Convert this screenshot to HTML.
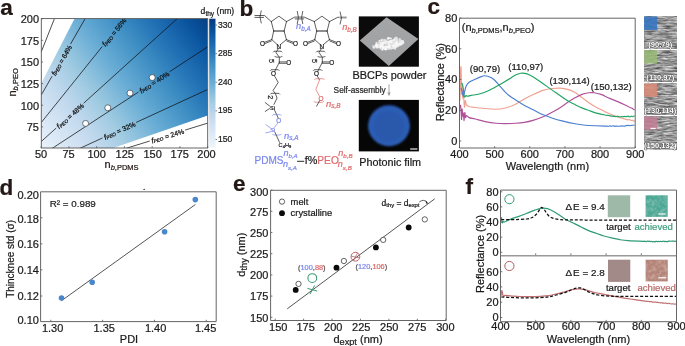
<!DOCTYPE html>
<html><head><meta charset="utf-8"><style>
html,body{margin:0;padding:0;background:#fff;overflow:hidden}
svg{display:block;will-change:transform}
text{font-family:"Liberation Sans", sans-serif}
</style></head><body>
<svg width="685" height="346" viewBox="0 0 685 346">
<text x="0.2" y="15.2" font-size="22.5" font-weight="bold" fill="#231815" stroke="#231815" stroke-width="0.22">a</text>
<text x="239.6" y="16.2" font-size="22.5" font-weight="bold" fill="#231815" stroke="#231815" stroke-width="0.22">b</text>
<text x="427.4" y="14.4" font-size="22.5" font-weight="bold" fill="#231815" stroke="#231815" stroke-width="0.22">c</text>
<text x="-0.6" y="195.2" font-size="22.5" font-weight="bold" fill="#231815" stroke="#231815" stroke-width="0.22">d</text>
<text x="233.0" y="191.2" font-size="22.5" font-weight="bold" fill="#231815" stroke="#231815" stroke-width="0.22">e</text>
<text x="465.4" y="193.7" font-size="22.5" font-weight="bold" fill="#231815" stroke="#231815" stroke-width="0.22">f</text>
<defs><linearGradient id="hm" gradientUnits="userSpaceOnUse" x1="34.95" y1="151.50" x2="212.70" y2="18.20"><stop offset="0.000" stop-color="#eff6fc"/><stop offset="0.050" stop-color="#e6f0f9"/><stop offset="0.100" stop-color="#ddeaf7"/><stop offset="0.150" stop-color="#d4e4f4"/><stop offset="0.200" stop-color="#cbdef1"/><stop offset="0.250" stop-color="#c0d8ed"/><stop offset="0.300" stop-color="#b1d2e8"/><stop offset="0.350" stop-color="#a2cce2"/><stop offset="0.400" stop-color="#91c3de"/><stop offset="0.450" stop-color="#7eb8da"/><stop offset="0.500" stop-color="#6baed6"/><stop offset="0.550" stop-color="#5ca4d0"/><stop offset="0.600" stop-color="#4d99ca"/><stop offset="0.650" stop-color="#3f8fc4"/><stop offset="0.700" stop-color="#3282be"/><stop offset="0.750" stop-color="#2676b8"/><stop offset="0.800" stop-color="#1c6ab0"/><stop offset="0.850" stop-color="#135fa7"/><stop offset="0.900" stop-color="#09539d"/><stop offset="0.950" stop-color="#08478d"/><stop offset="1.000" stop-color="#083b7b"/></linearGradient>
<linearGradient id="cb" x1="0" y1="0" x2="0" y2="1"><stop offset="0.000" stop-color="#083b7b"/><stop offset="0.050" stop-color="#08478d"/><stop offset="0.100" stop-color="#09539d"/><stop offset="0.150" stop-color="#135fa7"/><stop offset="0.200" stop-color="#1c6ab0"/><stop offset="0.250" stop-color="#2676b8"/><stop offset="0.300" stop-color="#3282be"/><stop offset="0.350" stop-color="#3f8fc4"/><stop offset="0.400" stop-color="#4d99ca"/><stop offset="0.450" stop-color="#5ca4d0"/><stop offset="0.500" stop-color="#6baed6"/><stop offset="0.550" stop-color="#7eb8da"/><stop offset="0.600" stop-color="#91c3de"/><stop offset="0.650" stop-color="#a2cce2"/><stop offset="0.700" stop-color="#b1d2e8"/><stop offset="0.750" stop-color="#c0d8ed"/><stop offset="0.800" stop-color="#cbdef1"/><stop offset="0.850" stop-color="#d4e4f4"/><stop offset="0.900" stop-color="#ddeaf7"/><stop offset="0.950" stop-color="#e6f0f9"/><stop offset="1.000" stop-color="#eff6fc"/></linearGradient></defs>
<clipPath id="cpa"><rect x="41.30" y="18.60" width="166.40" height="129.40"/></clipPath>
<path d="M41.20,148.50 L111.84,148.50 L207.70,115.62 L207.70,18.71 L74.50,18.71 L41.20,83.60 Z" fill="url(#hm)" clip-path="url(#cpa)"/>
<path d="M41.20,52.00 L54.42,18.71" stroke="#111" stroke-width="0.75" fill="none" clip-path="url(#cpa)"/>
<path d="M41.20,95.14 L52.09,76.18 M70.52,44.09 L85.10,18.71" stroke="#111" stroke-width="0.75" fill="none" clip-path="url(#cpa)"/>
<text transform="translate(61.30,60.13) rotate(-60.13)" font-size="6.9" text-anchor="middle" dominant-baseline="central" fill="#111" stroke="#111" stroke-width="0.22"><tspan font-style="italic" font-size="7.6">f</tspan><tspan font-size="4.8" font-style="italic" dy="1.3">PEO</tspan><tspan dy="-1.3"> = 64%</tspan></text>
<path d="M41.20,122.59 L102.31,46.42 M125.46,17.56 L124.55,18.71" stroke="#111" stroke-width="0.75" fill="none" clip-path="url(#cpa)"/>
<text transform="translate(113.89,31.99) rotate(-51.26)" font-size="6.9" text-anchor="middle" dominant-baseline="central" fill="#111" stroke="#111" stroke-width="0.22"><tspan font-style="italic" font-size="7.6">f</tspan><tspan font-size="4.8" font-style="italic" dy="1.3">PEO</tspan><tspan dy="-1.3"> = 56%</tspan></text>
<path d="M41.20,141.59 L56.19,128.04 M83.64,103.23 L177.14,18.71" stroke="#111" stroke-width="0.75" fill="none" clip-path="url(#cpa)"/>
<text transform="translate(69.91,115.64) rotate(-42.11)" font-size="6.9" text-anchor="middle" dominant-baseline="central" fill="#111" stroke="#111" stroke-width="0.22"><tspan font-style="italic" font-size="7.6">f</tspan><tspan font-size="4.8" font-style="italic" dy="1.3">PEO</tspan><tspan dy="-1.3"> = 48%</tspan></text>
<path d="M51.97,148.50 L138.55,91.97 M169.53,71.75 L207.70,46.82" stroke="#111" stroke-width="0.75" fill="none" clip-path="url(#cpa)"/>
<text transform="translate(154.04,81.86) rotate(-33.14)" font-size="6.9" text-anchor="middle" dominant-baseline="central" fill="#111" stroke="#111" stroke-width="0.22"><tspan font-style="italic" font-size="7.6">f</tspan><tspan font-size="4.8" font-style="italic" dy="1.3">PEO</tspan><tspan dy="-1.3"> = 40%</tspan></text>
<path d="M79.58,148.50 L102.51,137.93 M136.12,122.44 L207.70,89.45" stroke="#111" stroke-width="0.75" fill="none" clip-path="url(#cpa)"/>
<text transform="translate(119.32,130.19) rotate(-24.74)" font-size="6.9" text-anchor="middle" dominant-baseline="central" fill="#111" stroke="#111" stroke-width="0.22"><tspan font-style="italic" font-size="7.6">f</tspan><tspan font-size="4.8" font-style="italic" dy="1.3">PEO</tspan><tspan dy="-1.3"> = 32%</tspan></text>
<path d="M125.60,148.50 L149.76,141.03 M185.11,130.09 L207.70,123.11" stroke="#111" stroke-width="0.75" fill="none" clip-path="url(#cpa)"/>
<text transform="translate(167.44,135.56) rotate(-17.18)" font-size="6.9" text-anchor="middle" dominant-baseline="central" fill="#111" stroke="#111" stroke-width="0.22"><tspan font-style="italic" font-size="7.6">f</tspan><tspan font-size="4.8" font-style="italic" dy="1.3">PEO</tspan><tspan dy="-1.3"> = 24%</tspan></text>
<circle cx="85.60" cy="123.41" r="3.0" fill="#fff" stroke="#222" stroke-width="0.6"/>
<circle cx="107.80" cy="107.83" r="3.0" fill="#fff" stroke="#222" stroke-width="0.6"/>
<circle cx="130.00" cy="93.12" r="3.0" fill="#fff" stroke="#222" stroke-width="0.6"/>
<circle cx="152.20" cy="77.55" r="3.0" fill="#fff" stroke="#222" stroke-width="0.6"/>
<rect x="41.30" y="18.60" width="166.40" height="129.40" fill="none" stroke="#555" stroke-width="0.9"/>
<text x="41.00" y="158.30" font-size="11" text-anchor="middle" fill="#1a1a1a"  stroke="#1a1a1a" stroke-width="0.22">50</text>
<text x="68.50" y="158.30" font-size="11" text-anchor="middle" fill="#1a1a1a"  stroke="#1a1a1a" stroke-width="0.22">75</text>
<text x="96.60" y="158.30" font-size="11" text-anchor="middle" fill="#1a1a1a"  stroke="#1a1a1a" stroke-width="0.22">100</text>
<text x="124.80" y="158.30" font-size="11" text-anchor="middle" fill="#1a1a1a"  stroke="#1a1a1a" stroke-width="0.22">125</text>
<text x="152.60" y="158.30" font-size="11" text-anchor="middle" fill="#1a1a1a"  stroke="#1a1a1a" stroke-width="0.22">150</text>
<text x="179.80" y="158.30" font-size="11" text-anchor="middle" fill="#1a1a1a"  stroke="#1a1a1a" stroke-width="0.22">175</text>
<text x="206.50" y="158.30" font-size="11" text-anchor="middle" fill="#1a1a1a"  stroke="#1a1a1a" stroke-width="0.22">200</text>
<text x="39.00" y="131.37" font-size="11" text-anchor="end" fill="#1a1a1a"  stroke="#1a1a1a" stroke-width="0.22">75</text>
<text x="39.00" y="109.73" font-size="11" text-anchor="end" fill="#1a1a1a"  stroke="#1a1a1a" stroke-width="0.22">100</text>
<text x="39.00" y="88.10" font-size="11" text-anchor="end" fill="#1a1a1a"  stroke="#1a1a1a" stroke-width="0.22">125</text>
<text x="39.00" y="66.47" font-size="11" text-anchor="end" fill="#1a1a1a"  stroke="#1a1a1a" stroke-width="0.22">150</text>
<text x="39.00" y="44.84" font-size="11" text-anchor="end" fill="#1a1a1a"  stroke="#1a1a1a" stroke-width="0.22">175</text>
<text x="39.00" y="23.21" font-size="11" text-anchor="end" fill="#1a1a1a"  stroke="#1a1a1a" stroke-width="0.22">200</text>
<path d="M41.20,148.00 v-1.8 M68.95,148.00 v-1.8 M96.70,148.00 v-1.8 M124.45,148.00 v-1.8 M152.20,148.00 v-1.8 M179.95,148.00 v-1.8 M207.70,148.00 v-1.8 M41.30,126.87 h1.8 M41.30,105.23 h1.8 M41.30,83.60 h1.8 M41.30,61.97 h1.8 M41.30,40.34 h1.8 M41.30,18.71 h1.8" stroke="#555" stroke-width="0.8"/>
<text x="104.5" y="168.2" font-size="11" fill="#231815" stroke="#231815" stroke-width="0.22">n<tspan font-size="7.5" dy="1.8"><tspan font-style="italic">b</tspan>,PDMS</tspan></text>
<text transform="translate(15.8,96.5) rotate(-90)" font-size="11" fill="#231815" stroke="#231815" stroke-width="0.22">n<tspan font-size="7.5" dy="1.8"><tspan font-style="italic">b</tspan>,PEO</tspan></text>
<rect x="209.2" y="18.7" width="6.3" height="129" fill="url(#cb)"/>
<path d="M215.5,25.05 h1.6" stroke="#444" stroke-width="0.7"/>
<text x="217.90" y="27.65" font-size="8.6" text-anchor="start" fill="#1a1a1a"  stroke="#1a1a1a" stroke-width="0.22">330</text>
<path d="M215.5,53.65 h1.6" stroke="#444" stroke-width="0.7"/>
<text x="217.90" y="56.25" font-size="8.6" text-anchor="start" fill="#1a1a1a"  stroke="#1a1a1a" stroke-width="0.22">285</text>
<path d="M215.5,82.25 h1.6" stroke="#444" stroke-width="0.7"/>
<text x="217.90" y="84.85" font-size="8.6" text-anchor="start" fill="#1a1a1a"  stroke="#1a1a1a" stroke-width="0.22">240</text>
<path d="M215.5,110.84 h1.6" stroke="#444" stroke-width="0.7"/>
<text x="217.90" y="113.44" font-size="8.6" text-anchor="start" fill="#1a1a1a"  stroke="#1a1a1a" stroke-width="0.22">195</text>
<path d="M215.5,139.44 h1.6" stroke="#444" stroke-width="0.7"/>
<text x="217.90" y="142.04" font-size="8.6" text-anchor="start" fill="#1a1a1a"  stroke="#1a1a1a" stroke-width="0.22">150</text>
<text x="200.6" y="14.2" font-size="8.6" fill="#1a1a1a" stroke="#1a1a1a" stroke-width="0.22">d<tspan font-size="6.6" dy="1.7">thy</tspan><tspan dy="-1.7"> (nm)</tspan></text>
<path d="M271.30,21.60 L278.90,16.20 L286.50,21.60" stroke="#1e1e1e" stroke-width="0.72" fill="none" stroke-linecap="round" stroke-linejoin="round"/>
<path d="M271.30,21.60 L273.70,31.00" stroke="#1e1e1e" stroke-width="0.72" fill="none" stroke-linecap="round" stroke-linejoin="round"/>
<path d="M286.50,21.60 L284.10,31.00" stroke="#1e1e1e" stroke-width="0.72" fill="none" stroke-linecap="round" stroke-linejoin="round"/>
<path d="M273.70,31.00 L284.10,31.00" stroke="#1e1e1e" stroke-width="1.00" fill="none" stroke-linecap="round" stroke-linejoin="round"/>
<path d="M273.70,31.00 L271.80,39.60" stroke="#1e1e1e" stroke-width="0.72" fill="none" stroke-linecap="round" stroke-linejoin="round"/>
<path d="M284.10,31.00 L286.40,39.60" stroke="#1e1e1e" stroke-width="0.72" fill="none" stroke-linecap="round" stroke-linejoin="round"/>
<path d="M271.80,39.60 L277.00,44.40" stroke="#1e1e1e" stroke-width="0.72" fill="none" stroke-linecap="round" stroke-linejoin="round"/>
<path d="M286.40,39.60 L280.60,44.40" stroke="#1e1e1e" stroke-width="0.72" fill="none" stroke-linecap="round" stroke-linejoin="round"/>
<path d="M271.80,39.60 L264.80,42.20" stroke="#1e1e1e" stroke-width="0.72" fill="none" stroke-linecap="round" stroke-linejoin="round"/>
<path d="M271.40,41.00 L265.00,43.50" stroke="#1e1e1e" stroke-width="0.72" fill="none" stroke-linecap="round" stroke-linejoin="round"/>
<path d="M286.40,39.60 L293.20,42.20" stroke="#1e1e1e" stroke-width="0.72" fill="none" stroke-linecap="round" stroke-linejoin="round"/>
<path d="M286.80,41.00 L293.00,43.50" stroke="#1e1e1e" stroke-width="0.72" fill="none" stroke-linecap="round" stroke-linejoin="round"/>
<text x="262.60" y="43.30" font-size="6.4" text-anchor="middle" dominant-baseline="central" fill="#1e1e1e" stroke="#1e1e1e" stroke-width="0.22">O</text>
<text x="295.40" y="43.30" font-size="6.4" text-anchor="middle" dominant-baseline="central" fill="#1e1e1e" stroke="#1e1e1e" stroke-width="0.22">O</text>
<text x="278.80" y="46.10" font-size="6.4" text-anchor="middle" dominant-baseline="central" fill="#1e1e1e" stroke="#1e1e1e" stroke-width="0.22">N</text>
<path d="M278.60,48.30 L276.00,52.50 L279.30,57.30 L279.30,62.40" stroke="#1e1e1e" stroke-width="0.72" fill="none" stroke-linecap="round" stroke-linejoin="round"/>
<path d="M274.00,51.30 Q277.60,51.00 281.20,51.30 M273.00,52.30 L274.00,51.30 M281.20,51.30 L282.20,52.30" stroke="#1e1e1e" stroke-width="0.70" fill="none"/>
<path d="M275.60,57.00 Q278.50,57.30 281.40,57.00 M274.60,56.00 L275.60,57.00 M281.40,57.00 L282.40,56.00" stroke="#1e1e1e" stroke-width="0.70" fill="none"/>
<text transform="translate(271.00,61.00) rotate(90)" font-size="7.2" text-anchor="middle" dominant-baseline="central" fill="#1e1e1e" stroke="#1e1e1e" stroke-width="0.22">5</text>
<path d="M279.30,61.90 L286.20,61.90" stroke="#1e1e1e" stroke-width="0.72" fill="none" stroke-linecap="round" stroke-linejoin="round"/>
<path d="M279.30,63.30 L286.20,63.30" stroke="#1e1e1e" stroke-width="0.72" fill="none" stroke-linecap="round" stroke-linejoin="round"/>
<text x="288.70" y="62.70" font-size="6.4" text-anchor="middle" dominant-baseline="central" fill="#1e1e1e" stroke="#1e1e1e" stroke-width="0.22">O</text>
<path d="M279.30,62.40 L274.80,71.20" stroke="#1e1e1e" stroke-width="0.72" fill="none" stroke-linecap="round" stroke-linejoin="round"/>
<path d="M271.00,69.80 Q274.70,69.50 278.40,69.80 M270.00,70.80 L271.00,69.80 M278.40,69.80 L279.40,70.80" stroke="#1e1e1e" stroke-width="0.70" fill="none"/>
<text x="273.40" y="73.90" font-size="6.4" text-anchor="middle" dominant-baseline="central" fill="#1e1e1e" stroke="#1e1e1e" stroke-width="0.22">O</text>
<path d="M314.30,21.60 L321.90,16.20 L329.50,21.60" stroke="#1e1e1e" stroke-width="0.72" fill="none" stroke-linecap="round" stroke-linejoin="round"/>
<path d="M314.30,21.60 L316.70,31.00" stroke="#1e1e1e" stroke-width="0.72" fill="none" stroke-linecap="round" stroke-linejoin="round"/>
<path d="M329.50,21.60 L327.10,31.00" stroke="#1e1e1e" stroke-width="0.72" fill="none" stroke-linecap="round" stroke-linejoin="round"/>
<path d="M316.70,31.00 L327.10,31.00" stroke="#1e1e1e" stroke-width="1.00" fill="none" stroke-linecap="round" stroke-linejoin="round"/>
<path d="M316.70,31.00 L314.80,39.60" stroke="#1e1e1e" stroke-width="0.72" fill="none" stroke-linecap="round" stroke-linejoin="round"/>
<path d="M327.10,31.00 L329.40,39.60" stroke="#1e1e1e" stroke-width="0.72" fill="none" stroke-linecap="round" stroke-linejoin="round"/>
<path d="M314.80,39.60 L320.00,44.40" stroke="#1e1e1e" stroke-width="0.72" fill="none" stroke-linecap="round" stroke-linejoin="round"/>
<path d="M329.40,39.60 L323.60,44.40" stroke="#1e1e1e" stroke-width="0.72" fill="none" stroke-linecap="round" stroke-linejoin="round"/>
<path d="M314.80,39.60 L307.80,42.20" stroke="#1e1e1e" stroke-width="0.72" fill="none" stroke-linecap="round" stroke-linejoin="round"/>
<path d="M314.40,41.00 L308.00,43.50" stroke="#1e1e1e" stroke-width="0.72" fill="none" stroke-linecap="round" stroke-linejoin="round"/>
<path d="M329.40,39.60 L336.20,42.20" stroke="#1e1e1e" stroke-width="0.72" fill="none" stroke-linecap="round" stroke-linejoin="round"/>
<path d="M329.80,41.00 L336.00,43.50" stroke="#1e1e1e" stroke-width="0.72" fill="none" stroke-linecap="round" stroke-linejoin="round"/>
<text x="305.60" y="43.30" font-size="6.4" text-anchor="middle" dominant-baseline="central" fill="#1e1e1e" stroke="#1e1e1e" stroke-width="0.22">O</text>
<text x="338.40" y="43.30" font-size="6.4" text-anchor="middle" dominant-baseline="central" fill="#1e1e1e" stroke="#1e1e1e" stroke-width="0.22">O</text>
<text x="321.80" y="46.10" font-size="6.4" text-anchor="middle" dominant-baseline="central" fill="#1e1e1e" stroke="#1e1e1e" stroke-width="0.22">N</text>
<path d="M321.60,48.30 L319.00,52.50 L322.30,57.30 L322.30,62.40" stroke="#1e1e1e" stroke-width="0.72" fill="none" stroke-linecap="round" stroke-linejoin="round"/>
<path d="M317.00,51.30 Q320.60,51.00 324.20,51.30 M316.00,52.30 L317.00,51.30 M324.20,51.30 L325.20,52.30" stroke="#1e1e1e" stroke-width="0.70" fill="none"/>
<path d="M318.60,57.00 Q321.50,57.30 324.40,57.00 M317.60,56.00 L318.60,57.00 M324.40,57.00 L325.40,56.00" stroke="#1e1e1e" stroke-width="0.70" fill="none"/>
<text transform="translate(314.00,61.00) rotate(90)" font-size="7.2" text-anchor="middle" dominant-baseline="central" fill="#1e1e1e" stroke="#1e1e1e" stroke-width="0.22">5</text>
<path d="M322.30,61.90 L329.20,61.90" stroke="#1e1e1e" stroke-width="0.72" fill="none" stroke-linecap="round" stroke-linejoin="round"/>
<path d="M322.30,63.30 L329.20,63.30" stroke="#1e1e1e" stroke-width="0.72" fill="none" stroke-linecap="round" stroke-linejoin="round"/>
<text x="331.70" y="62.70" font-size="6.4" text-anchor="middle" dominant-baseline="central" fill="#1e1e1e" stroke="#1e1e1e" stroke-width="0.22">O</text>
<path d="M322.30,62.40 L317.80,71.20" stroke="#1e1e1e" stroke-width="0.72" fill="none" stroke-linecap="round" stroke-linejoin="round"/>
<path d="M314.00,69.80 Q317.70,69.50 321.40,69.80 M313.00,70.80 L314.00,69.80 M321.40,69.80 L322.40,70.80" stroke="#1e1e1e" stroke-width="0.70" fill="none"/>
<text x="316.40" y="73.90" font-size="6.4" text-anchor="middle" dominant-baseline="central" fill="#1e1e1e" stroke="#1e1e1e" stroke-width="0.22">O</text>
<path d="M254.90,15.50 L264.50,15.50 L271.30,21.60" stroke="#1e1e1e" stroke-width="0.72" fill="none" stroke-linecap="round" stroke-linejoin="round"/>
<path d="M254.90,17.40 L263.70,17.40" stroke="#1e1e1e" stroke-width="0.72" fill="none" stroke-linecap="round" stroke-linejoin="round"/>
<path d="M261.30,10.40 Q258.70,16.90 261.30,23.40" stroke="#1e1e1e" stroke-width="0.70" fill="none"/>
<path d="M286.50,21.60 L294.70,17.10 L304.20,17.10 L314.30,21.60" stroke="#1e1e1e" stroke-width="0.72" fill="none" stroke-linecap="round" stroke-linejoin="round"/>
<path d="M295.20,18.90 L303.80,18.90" stroke="#1e1e1e" stroke-width="0.72" fill="none" stroke-linecap="round" stroke-linejoin="round"/>
<path d="M297.20,11.00 Q299.60,17.50 297.20,24.00" stroke="#1e1e1e" stroke-width="0.70" fill="none"/>
<path d="M302.80,11.00 Q300.40,17.50 302.80,24.00" stroke="#1e1e1e" stroke-width="0.70" fill="none"/>
<path d="M329.50,21.60 L337.70,17.30 L339.20,17.30" stroke="#1e1e1e" stroke-width="0.72" fill="none" stroke-linecap="round" stroke-linejoin="round"/>
<path d="M339.6,17.5 H346.7" stroke="#9a9a9a" stroke-width="1.9"/>
<path d="M340.00,11.60 Q343.00,18.00 340.00,24.40" stroke="#1e1e1e" stroke-width="0.70" fill="none"/>
<text x="296.1" y="29.4" font-size="9.2" font-style="italic" fill="#7b86ee" stroke="#7b86ee" stroke-width="0.22">n<tspan font-size="6.3" dy="1.5">b,A</tspan></text>
<text x="342.2" y="30.2" font-size="9.2" font-style="italic" fill="#e06a6a" stroke="#e06a6a" stroke-width="0.22">n<tspan font-size="6.3" dy="1.5">b,B</tspan></text>
<path d="M274.80,76.40 L278.20,82.40 L275.30,87.00 L273.00,90.50 L275.30,93.40 L277.10,98.00 L274.00,104.40" stroke="#1e1e1e" stroke-width="0.72" fill="none" stroke-linecap="round" stroke-linejoin="round"/>
<path d="M271.10,93.40 Q275.05,93.10 279.00,93.40 M270.10,94.40 L271.10,93.40 M279.00,93.40 L280.00,94.40" stroke="#1e1e1e" stroke-width="0.70" fill="none"/>
<text transform="translate(270.70,97.20) rotate(90)" font-size="7.2" text-anchor="middle" dominant-baseline="central" fill="#1e1e1e" stroke="#1e1e1e" stroke-width="0.22">2</text>
<text x="272.40" y="107.60" font-size="5.6" text-anchor="middle" dominant-baseline="central" fill="#1e1e1e" stroke="#1e1e1e" stroke-width="0.22">Si</text>
<path d="M269.60,108.60 L265.20,111.40" stroke="#1e1e1e" stroke-width="0.72" fill="none" stroke-linecap="round" stroke-linejoin="round"/>
<path d="M269.60,106.00 L265.20,102.60" stroke="#1e1e1e" stroke-width="0.72" fill="none" stroke-linecap="round" stroke-linejoin="round"/>
<path d="M274.60,110.20 L278.30,118.20" stroke="#1e1e1e" stroke-width="0.72" fill="none" stroke-linecap="round" stroke-linejoin="round"/>
<path d="M273.30,114.70 Q276.85,114.40 280.40,114.70 M272.30,115.70 L273.30,114.70 M280.40,114.70 L281.40,115.70" stroke="#7b86ee" stroke-width="0.70" fill="none"/>
<text x="278.80" y="120.90" font-size="6.4" text-anchor="middle" dominant-baseline="central" fill="#7b86ee" stroke="#7b86ee" stroke-width="0.22">O</text>
<path d="M277.60,123.40 L274.20,127.60" stroke="#7b86ee" stroke-width="0.72" fill="none" stroke-linecap="round" stroke-linejoin="round"/>
<text x="272.80" y="129.80" font-size="5.6" text-anchor="middle" dominant-baseline="central" fill="#7b86ee" stroke="#7b86ee" stroke-width="0.22">Si</text>
<path d="M270.40,128.00 L265.80,124.60" stroke="#7b86ee" stroke-width="0.72" fill="none" stroke-linecap="round" stroke-linejoin="round"/>
<path d="M270.40,131.80 L265.80,132.90" stroke="#7b86ee" stroke-width="0.72" fill="none" stroke-linecap="round" stroke-linejoin="round"/>
<path d="M273.30,134.90 Q276.85,135.20 280.40,134.90 M272.30,133.90 L273.30,134.90 M280.40,134.90 L281.40,133.90" stroke="#7b86ee" stroke-width="0.70" fill="none"/>
<path d="M275.00,132.40 L279.50,142.30" stroke="#1e1e1e" stroke-width="0.72" fill="none" stroke-linecap="round" stroke-linejoin="round"/>
<text x="284.0" y="138.6" font-size="9.4" font-style="italic" fill="#7b86ee" stroke="#7b86ee" stroke-width="0.22">n<tspan font-size="6.4" dy="1.4">s,A</tspan></text>
<text x="278.6" y="147.2" font-size="5.6" fill="#1e1e1e" stroke="#1e1e1e" stroke-width="0.22">C<tspan font-size="4" dy="0.9">4</tspan><tspan dy="-0.9">H</tspan><tspan font-size="4" dy="0.9">9</tspan></text>
<path d="M317.30,76.00 L319.40,79.80" stroke="#1e1e1e" stroke-width="0.72" fill="none" stroke-linecap="round" stroke-linejoin="round"/>
<path d="M315.40,78.80 Q319.45,78.50 323.50,78.80 M314.40,79.80 L315.40,78.80 M323.50,78.80 L324.50,79.80" stroke="#e06a6a" stroke-width="0.70" fill="none"/>
<path d="M319.40,80.20 L315.80,89.60 L319.40,96.00" stroke="#e06a6a" stroke-width="0.72" fill="none" stroke-linecap="round" stroke-linejoin="round"/>
<text x="320.90" y="98.50" font-size="6.4" text-anchor="middle" dominant-baseline="central" fill="#e06a6a" stroke="#e06a6a" stroke-width="0.22">O</text>
<path d="M314.70,102.20 Q318.75,102.50 322.80,102.20 M313.70,101.20 L314.70,102.20 M322.80,102.20 L323.80,101.20" stroke="#e06a6a" stroke-width="0.70" fill="none"/>
<path d="M319.60,100.80 L316.60,106.20" stroke="#1e1e1e" stroke-width="0.72" fill="none" stroke-linecap="round" stroke-linejoin="round"/>
<text x="326.0" y="106.8" font-size="9.4" font-style="italic" fill="#e06a6a" stroke="#e06a6a" stroke-width="0.22">n<tspan font-size="6.4" dy="1.4">s,B</tspan></text>
<text x="254.5" y="163.8" font-size="10.8" textLength="29.0" lengthAdjust="spacingAndGlyphs" fill="#7b86ee" stroke="#7b86ee" stroke-width="0.22">PDMS</text>
<text x="283.4" y="155.9" font-size="9" font-style="italic" fill="#7b86ee" stroke="#7b86ee" stroke-width="0.22">n<tspan font-size="6.2" dy="2.0">b,A</tspan></text>
<text x="283.0" y="167.0" font-size="9" font-style="italic" fill="#7b86ee" stroke="#7b86ee" stroke-width="0.22">n<tspan font-size="6.2" dy="2.6">s,A</tspan></text>
<path d="M297.0,161.3 H304.2" stroke="#222" stroke-width="0.95"/>
<text x="304.7" y="164.2" font-size="10.8" fill="#222" stroke="#222" stroke-width="0.22">f%<tspan fill="#e06a6a" textLength="21.6" lengthAdjust="spacingAndGlyphs" stroke="#e06a6a" stroke-width="0.22">PEO</tspan></text>
<text x="338.3" y="155.9" font-size="9" font-style="italic" fill="#e06a6a" stroke="#e06a6a" stroke-width="0.22">n<tspan font-size="6.2" dy="2.0">b,B</tspan></text>
<text x="337.8" y="167.4" font-size="9" font-style="italic" fill="#e06a6a" stroke="#e06a6a" stroke-width="0.22">n<tspan font-size="6.2" dy="2.6">s,B</tspan></text>
<defs><linearGradient id="dg" x1="0" y1="0" x2="0" y2="1"><stop offset="0" stop-color="#a4a5a6"/><stop offset="1" stop-color="#9fa0a1"/></linearGradient><radialGradient id="pw" cx="0.5" cy="0.5" r="0.5"><stop offset="0" stop-color="#f4f4f4"/><stop offset="0.6" stop-color="#e2e2e2"/><stop offset="1" stop-color="#c8c8c8" stop-opacity="0"/></radialGradient><radialGradient id="bl" cx="0.5" cy="0.52" r="0.5"><stop offset="0" stop-color="#2a58aa"/><stop offset="0.6" stop-color="#2a58ac"/><stop offset="0.84" stop-color="#2c5db4"/><stop offset="0.93" stop-color="#2f63bc"/><stop offset="0.98" stop-color="#24499a"/><stop offset="1" stop-color="#13285c"/></radialGradient><filter id="bf3" x="-20%" y="-20%" width="140%" height="140%"><feGaussianBlur stdDeviation="0.8"/></filter><filter id="bf" x="-20%" y="-20%" width="140%" height="140%"><feGaussianBlur stdDeviation="0.6"/></filter><filter id="bf2" x="-20%" y="-20%" width="140%" height="140%"><feGaussianBlur stdDeviation="0.35"/></filter></defs>
<rect x="358.8" y="16.4" width="60.1" height="50.3" fill="#0b0b0b"/>
<path d="M386.5,17.2 L418.4,38.9 L388.8,65.9 L359.8,40.6 Z" fill="url(#dg)"/>
<g filter="url(#bf2)"><path d="M376,45.5 C378,41 384,40.5 389,40.8 C394,39.5 399,38.6 403,40.2 C405.5,41.5 404,44.5 400,46 C396,48.5 391,50.2 386,49.6 C381,49.6 376.5,48.2 376,45.5 Z" fill="#e9e9e9"/><ellipse cx="389" cy="44.4" rx="9" ry="3.6" fill="#f7f7f7"/><circle cx="387.02" cy="45.13" r="1.81" fill="#fafafa"/><circle cx="387.01" cy="48.67" r="0.93" fill="#dcdcdc"/><circle cx="387.75" cy="45.67" r="0.92" fill="#fafafa"/><circle cx="382.41" cy="40.15" r="1.67" fill="#d0d0d0"/><circle cx="392.67" cy="44.75" r="1.18" fill="#fafafa"/><circle cx="393.27" cy="44.91" r="0.89" fill="#f6f6f6"/><circle cx="391.59" cy="47.10" r="1.09" fill="#dcdcdc"/><circle cx="399.12" cy="42.92" r="1.47" fill="#fafafa"/><circle cx="393.30" cy="42.40" r="1.36" fill="#f6f6f6"/><circle cx="394.94" cy="41.07" r="0.98" fill="#e4e4e4"/><circle cx="373.92" cy="47.03" r="0.83" fill="#f6f6f6"/><circle cx="399.24" cy="41.31" r="1.85" fill="#d0d0d0"/><circle cx="401.22" cy="42.03" r="1.88" fill="#fafafa"/><circle cx="386.01" cy="45.35" r="0.94" fill="#d0d0d0"/><circle cx="381.36" cy="40.26" r="1.10" fill="#fafafa"/><circle cx="396.50" cy="38.48" r="1.00" fill="#f6f6f6"/><circle cx="373.34" cy="45.93" r="1.28" fill="#d0d0d0"/><circle cx="390.34" cy="43.31" r="0.93" fill="#d0d0d0"/><circle cx="396.86" cy="42.04" r="1.16" fill="#fafafa"/><circle cx="386.04" cy="41.10" r="1.02" fill="#dcdcdc"/><circle cx="382.43" cy="49.68" r="0.95" fill="#fafafa"/><circle cx="390.89" cy="38.37" r="0.88" fill="#fafafa"/><circle cx="381.01" cy="48.54" r="1.09" fill="#e4e4e4"/><circle cx="384.97" cy="39.59" r="0.95" fill="#d0d0d0"/><circle cx="380.53" cy="46.55" r="1.15" fill="#fafafa"/><circle cx="376.94" cy="46.89" r="1.70" fill="#eeeeee"/><circle cx="399.86" cy="38.78" r="0.88" fill="#eeeeee"/><circle cx="398.35" cy="39.80" r="0.93" fill="#d0d0d0"/><circle cx="392.50" cy="44.28" r="1.52" fill="#fafafa"/><circle cx="400.35" cy="43.76" r="1.21" fill="#f6f6f6"/><circle cx="376.38" cy="46.07" r="1.01" fill="#d0d0d0"/><circle cx="394.84" cy="40.38" r="1.69" fill="#dcdcdc"/><circle cx="388.22" cy="44.48" r="1.82" fill="#f6f6f6"/><circle cx="376.92" cy="45.60" r="1.48" fill="#dcdcdc"/><circle cx="392.04" cy="41.06" r="1.80" fill="#eeeeee"/><circle cx="396.22" cy="37.93" r="1.19" fill="#eeeeee"/><circle cx="384.43" cy="45.64" r="0.86" fill="#e4e4e4"/><circle cx="377.29" cy="45.20" r="1.10" fill="#d0d0d0"/><circle cx="394.43" cy="44.37" r="0.87" fill="#f6f6f6"/><circle cx="401.63" cy="42.03" r="1.13" fill="#e4e4e4"/><circle cx="392.72" cy="43.39" r="1.58" fill="#e4e4e4"/><circle cx="387.05" cy="42.82" r="0.75" fill="#d0d0d0"/><circle cx="395.85" cy="38.71" r="1.86" fill="#e4e4e4"/><circle cx="383.91" cy="47.07" r="1.78" fill="#fafafa"/><circle cx="388.50" cy="38.37" r="1.49" fill="#fafafa"/><circle cx="391.06" cy="45.14" r="0.80" fill="#d0d0d0"/><circle cx="376.58" cy="42.98" r="1.20" fill="#e4e4e4"/><circle cx="385.04" cy="47.51" r="1.40" fill="#fafafa"/><circle cx="387.34" cy="44.86" r="1.32" fill="#dcdcdc"/><circle cx="373.92" cy="47.48" r="1.28" fill="#eeeeee"/><circle cx="397.18" cy="44.89" r="1.28" fill="#f6f6f6"/><circle cx="384.41" cy="40.50" r="1.43" fill="#dcdcdc"/><circle cx="393.46" cy="42.80" r="1.77" fill="#e4e4e4"/><circle cx="385.55" cy="41.63" r="1.46" fill="#eeeeee"/><circle cx="400.29" cy="41.14" r="1.40" fill="#e4e4e4"/><circle cx="379.51" cy="41.09" r="1.12" fill="#f6f6f6"/><circle cx="395.05" cy="48.67" r="1.03" fill="#eeeeee"/><circle cx="376.50" cy="45.56" r="1.81" fill="#fafafa"/><circle cx="384.86" cy="44.96" r="1.51" fill="#d0d0d0"/><circle cx="387.03" cy="39.31" r="0.74" fill="#dcdcdc"/><circle cx="390.69" cy="41.60" r="1.65" fill="#f6f6f6"/><circle cx="392.87" cy="42.44" r="0.93" fill="#e4e4e4"/><circle cx="380.36" cy="41.05" r="0.76" fill="#d0d0d0"/><circle cx="389.60" cy="45.72" r="1.14" fill="#f6f6f6"/><circle cx="394.22" cy="39.78" r="1.27" fill="#eeeeee"/><circle cx="395.14" cy="46.32" r="1.34" fill="#f6f6f6"/><circle cx="378.55" cy="42.88" r="1.11" fill="#d0d0d0"/><circle cx="402.35" cy="42.24" r="1.90" fill="#eeeeee"/><circle cx="385.20" cy="48.17" r="1.79" fill="#f6f6f6"/><circle cx="385.72" cy="49.31" r="1.17" fill="#fafafa"/></g>
<text x="352.6" y="78.8" font-size="10.9" fill="#1a1a1a" stroke="#1a1a1a" stroke-width="0.22">BBCPs powder</text>
<text x="333.6" y="93.0" font-size="8.3" fill="#2a2a2a" stroke="#2a2a2a" stroke-width="0.22">Self-assembly</text>
<path d="M389,84.4 V94.5" stroke="#9a9a9a" stroke-width="0.9"/><path d="M387.3,92.6 L389,96.2 L390.7,92.6 Z" fill="#9a9a9a"/>
<rect x="358.8" y="99.9" width="60.1" height="51.5" fill="#060606"/>
<ellipse cx="389.0" cy="125.4" rx="21.1" ry="20.8" fill="url(#bl)" filter="url(#bf3)"/>
<path d="M410.2,149.0 H417.4" stroke="#e8e8e8" stroke-width="1.2"/>
<text x="359.3" y="165.9" font-size="10.8" fill="#1a1a1a" stroke="#1a1a1a" stroke-width="0.22">Photonic film</text>
<clipPath id="cpc"><rect x="459.90" y="18.20" width="174.90" height="129.80"/></clipPath>
<path d="M460.00,100.50 C460.10,95.75 460.42,77.33 460.60,72.00 C460.78,66.67 460.93,64.83 461.10,68.50 C461.27,72.17 461.42,91.08 461.60,94.00 C461.78,96.92 462.00,85.33 462.20,86.00 C462.40,86.67 462.57,96.17 462.80,98.00 C463.03,99.83 463.32,95.47 463.60,97.00 C463.88,98.53 464.22,106.62 464.50,107.20 C464.78,107.78 465.00,100.93 465.30,100.50 C465.60,100.07 465.67,103.60 466.30,104.60 C466.93,105.60 467.62,106.02 469.10,106.50 C470.58,106.98 472.50,107.17 475.20,107.50 C477.90,107.83 482.00,108.22 485.30,108.50 C488.60,108.78 491.80,109.25 495.00,109.20 C498.20,109.15 501.17,108.98 504.50,108.20 C507.83,107.42 511.68,106.05 515.00,104.50 C518.32,102.95 521.27,100.62 524.40,98.90 C527.53,97.18 530.67,95.62 533.80,94.20 C536.93,92.78 540.07,91.35 543.20,90.40 C546.33,89.45 549.78,88.88 552.60,88.50 C555.42,88.12 557.58,87.95 560.10,88.10 C562.62,88.25 565.22,88.65 567.70,89.40 C570.18,90.15 572.63,91.25 575.00,92.60 C577.37,93.95 579.58,95.82 581.90,97.50 C584.22,99.18 586.58,101.10 588.90,102.70 C591.22,104.30 593.20,105.65 595.80,107.10 C598.40,108.55 601.62,110.05 604.50,111.40 C607.38,112.75 610.22,114.05 613.10,115.20 C615.98,116.35 620.18,117.77 621.80,118.30 C623.42,118.83 622.49,118.28 622.83,118.37 C623.18,118.46 623.52,118.73 623.87,118.83 C624.21,118.93 624.56,118.87 624.90,118.96 C625.24,119.05 625.59,119.26 625.93,119.37 C626.28,119.49 626.62,119.57 626.97,119.64 C627.31,119.71 627.67,119.80 628.00,119.80 C628.33,119.80 628.65,119.66 628.97,119.65 C629.30,119.65 629.62,119.63 629.94,119.77 C630.27,119.92 630.59,120.43 630.91,120.51 C631.24,120.59 631.56,120.28 631.89,120.26 C632.21,120.24 632.53,120.26 632.86,120.40 C633.18,120.54 633.50,121.01 633.83,121.09 C634.15,121.17 634.64,120.93 634.80,120.90" stroke="#f0a090" stroke-width="1.15" fill="none" stroke-linejoin="round" clip-path="url(#cpc)"/>
<path d="M460.00,108.00 C460.10,107.58 460.42,104.83 460.60,105.50 C460.78,106.17 460.93,109.67 461.10,112.00 C461.27,114.33 461.43,120.00 461.60,119.50 C461.77,119.00 461.92,109.58 462.10,109.00 C462.28,108.42 462.50,115.33 462.70,116.00 C462.90,116.67 463.07,112.23 463.30,113.00 C463.53,113.77 463.85,120.68 464.10,120.60 C464.35,120.52 464.55,113.02 464.80,112.50 C465.05,111.98 465.32,117.00 465.60,117.50 C465.88,118.00 465.92,115.48 466.50,115.50 C467.08,115.52 467.65,117.02 469.10,117.60 C470.55,118.18 472.50,118.33 475.20,119.00 C477.90,119.67 481.83,120.90 485.30,121.60 C488.77,122.30 492.72,122.87 496.00,123.20 C499.28,123.53 501.83,123.58 505.00,123.60 C508.17,123.62 511.77,123.50 515.00,123.30 C518.23,123.10 521.27,122.93 524.40,122.40 C527.53,121.87 530.67,121.05 533.80,120.10 C536.93,119.15 540.07,118.05 543.20,116.70 C546.33,115.35 549.47,113.72 552.60,112.00 C555.73,110.28 559.35,108.10 562.00,106.40 C564.65,104.70 566.33,103.23 568.50,101.80 C570.67,100.37 572.77,99.03 575.00,97.80 C577.23,96.57 579.58,95.23 581.90,94.40 C584.22,93.57 586.87,93.08 588.90,92.80 C590.93,92.52 592.08,92.43 594.10,92.70 C596.12,92.97 598.40,93.45 601.00,94.40 C603.60,95.35 606.82,97.15 609.70,98.40 C612.58,99.65 615.42,100.65 618.30,101.90 C621.18,103.15 625.39,105.16 627.00,105.90 C628.61,106.64 627.65,106.16 627.98,106.35 C628.30,106.55 628.62,106.93 628.95,107.09 C629.28,107.24 629.60,107.17 629.92,107.31 C630.25,107.44 630.57,107.78 630.90,107.90 C631.23,108.02 631.55,107.87 631.88,108.03 C632.20,108.19 632.52,108.60 632.85,108.84 C633.17,109.09 633.50,109.34 633.82,109.48 C634.15,109.63 634.64,109.66 634.80,109.70" stroke="#b0509a" stroke-width="1.15" fill="none" stroke-linejoin="round" clip-path="url(#cpc)"/>
<path d="M461.00,88.00 C461.20,88.67 461.80,90.58 462.20,92.00 C462.60,93.42 463.03,96.42 463.40,96.50 C463.77,96.58 463.95,94.20 464.40,92.50 C464.85,90.80 465.32,88.02 466.10,86.30 C466.88,84.58 467.58,83.38 469.10,82.20 C470.62,81.02 473.17,80.13 475.20,79.20 C477.23,78.27 479.75,77.17 481.30,76.60 C482.85,76.03 483.42,75.85 484.50,75.80 C485.58,75.75 486.65,75.97 487.80,76.30 C488.95,76.63 490.20,77.10 491.40,77.80 C492.60,78.50 493.73,79.27 495.00,80.50 C496.27,81.73 497.33,83.32 499.00,85.20 C500.67,87.08 503.17,89.95 505.00,91.80 C506.83,93.65 508.33,95.00 510.00,96.30 C511.67,97.60 512.60,98.08 515.00,99.60 C517.40,101.12 521.27,103.65 524.40,105.40 C527.53,107.15 530.67,108.53 533.80,110.10 C536.93,111.67 540.07,113.45 543.20,114.80 C546.33,116.15 549.47,117.18 552.60,118.20 C555.73,119.22 558.27,119.97 562.00,120.90 C565.73,121.83 571.10,123.08 575.00,123.80 C578.90,124.52 581.93,124.87 585.40,125.20 C588.87,125.53 592.33,125.65 595.80,125.80 C599.27,125.95 604.31,126.05 606.20,126.10 C608.09,126.15 606.83,126.09 607.15,126.12 C607.46,126.14 607.78,126.25 608.09,126.27 C608.41,126.29 608.72,126.30 609.04,126.22 C609.35,126.14 609.67,125.78 609.98,125.79 C610.30,125.80 610.61,126.22 610.93,126.28 C611.24,126.34 611.56,126.22 611.87,126.16 C612.19,126.11 612.50,126.03 612.82,125.96 C613.13,125.90 613.45,125.71 613.76,125.77 C614.08,125.84 614.39,126.30 614.71,126.36 C615.02,126.41 615.34,126.12 615.65,126.08 C615.97,126.04 616.28,126.08 616.60,126.10 C616.92,126.12 617.23,126.18 617.55,126.22 C617.86,126.25 618.18,126.31 618.49,126.29 C618.81,126.28 619.12,126.15 619.44,126.14 C619.75,126.13 620.07,126.30 620.38,126.25 C620.70,126.20 621.01,125.87 621.33,125.84 C621.64,125.82 621.96,126.10 622.27,126.09 C622.59,126.09 622.90,125.80 623.22,125.81 C623.53,125.81 623.85,126.08 624.16,126.11 C624.48,126.15 624.79,126.15 625.11,126.04 C625.42,125.93 625.74,125.51 626.05,125.45 C626.37,125.40 626.68,125.71 627.00,125.70 C627.32,125.69 627.65,125.44 627.98,125.38 C628.30,125.33 628.62,125.30 628.95,125.38 C629.28,125.45 629.60,125.83 629.92,125.84 C630.25,125.84 630.57,125.47 630.90,125.41 C631.23,125.34 631.55,125.51 631.88,125.48 C632.20,125.44 632.52,125.22 632.85,125.19 C633.17,125.15 633.50,125.27 633.82,125.27 C634.15,125.27 634.64,125.21 634.80,125.20" stroke="#4a7fd0" stroke-width="1.15" fill="none" stroke-linejoin="round" clip-path="url(#cpc)"/>
<path d="M461.30,83.00 C461.47,83.17 461.97,83.00 462.30,84.00 C462.63,85.00 463.02,87.08 463.30,89.00 C463.58,90.92 463.78,94.13 464.00,95.50 C464.22,96.87 464.27,97.18 464.60,97.20 C464.93,97.22 465.52,95.77 466.00,95.60 C466.48,95.43 466.63,96.23 467.50,96.20 C468.37,96.17 469.25,95.77 471.20,95.40 C473.15,95.03 476.52,94.68 479.20,94.00 C481.88,93.32 484.67,92.42 487.30,91.30 C489.93,90.18 492.38,88.72 495.00,87.30 C497.62,85.88 500.50,84.25 503.00,82.80 C505.50,81.35 508.00,79.87 510.00,78.60 C512.00,77.33 513.23,76.10 515.00,75.20 C516.77,74.30 518.72,73.47 520.60,73.20 C522.48,72.93 524.10,72.93 526.30,73.60 C528.50,74.27 530.98,75.50 533.80,77.20 C536.62,78.90 540.07,81.60 543.20,83.80 C546.33,86.00 549.47,88.20 552.60,90.40 C555.73,92.60 559.35,95.20 562.00,97.00 C564.65,98.80 566.33,99.93 568.50,101.20 C570.67,102.47 572.77,103.48 575.00,104.60 C577.23,105.72 579.58,106.92 581.90,107.90 C584.22,108.88 586.30,109.58 588.90,110.50 C591.50,111.42 594.62,112.62 597.50,113.40 C600.38,114.18 604.59,114.89 606.20,115.20 C607.81,115.51 606.84,115.22 607.17,115.24 C607.49,115.27 607.81,115.28 608.13,115.34 C608.46,115.40 608.78,115.56 609.10,115.63 C609.42,115.69 609.74,115.67 610.07,115.75 C610.39,115.83 610.71,116.04 611.03,116.09 C611.36,116.15 611.68,116.02 612.00,116.06 C612.32,116.10 612.64,116.29 612.97,116.36 C613.29,116.42 613.61,116.44 613.93,116.43 C614.26,116.42 614.58,116.26 614.90,116.30 C615.22,116.34 615.54,116.65 615.86,116.68 C616.17,116.71 616.49,116.57 616.81,116.49 C617.13,116.40 617.45,116.13 617.77,116.16 C618.09,116.20 618.40,116.58 618.72,116.69 C619.04,116.79 619.36,116.78 619.68,116.79 C620.00,116.81 620.31,116.82 620.63,116.78 C620.95,116.75 621.27,116.59 621.59,116.58 C621.91,116.57 622.23,116.71 622.54,116.72 C622.86,116.72 623.18,116.66 623.50,116.60 C623.82,116.54 624.13,116.34 624.44,116.37 C624.76,116.40 625.07,116.75 625.38,116.78 C625.70,116.82 626.01,116.65 626.33,116.58 C626.64,116.50 626.95,116.42 627.27,116.35 C627.58,116.28 627.89,116.11 628.21,116.17 C628.52,116.23 628.84,116.60 629.15,116.70 C629.46,116.80 629.78,116.87 630.09,116.77 C630.41,116.67 630.72,116.14 631.03,116.11 C631.35,116.08 631.66,116.56 631.97,116.59 C632.29,116.61 632.60,116.37 632.92,116.29 C633.23,116.20 633.54,116.08 633.86,116.08 C634.17,116.08 634.64,116.26 634.80,116.30" stroke="#1fa463" stroke-width="1.15" fill="none" stroke-linejoin="round" clip-path="url(#cpc)"/>
<path d="M459.50,18.20 V148.00 H635.20 V18.20 Z" fill="none" stroke="#555" stroke-width="0.9"/>
<text x="459.50" y="158.00" font-size="11" text-anchor="middle" fill="#1a1a1a"  stroke="#1a1a1a" stroke-width="0.22">400</text>
<text x="494.64" y="158.00" font-size="11" text-anchor="middle" fill="#1a1a1a"  stroke="#1a1a1a" stroke-width="0.22">500</text>
<text x="529.78" y="158.00" font-size="11" text-anchor="middle" fill="#1a1a1a"  stroke="#1a1a1a" stroke-width="0.22">600</text>
<text x="564.92" y="158.00" font-size="11" text-anchor="middle" fill="#1a1a1a"  stroke="#1a1a1a" stroke-width="0.22">700</text>
<text x="600.06" y="158.00" font-size="11" text-anchor="middle" fill="#1a1a1a"  stroke="#1a1a1a" stroke-width="0.22">800</text>
<text x="635.20" y="158.00" font-size="11" text-anchor="middle" fill="#1a1a1a"  stroke="#1a1a1a" stroke-width="0.22">900</text>
<text x="457.30" y="144.90" font-size="11" text-anchor="end" fill="#1a1a1a"  stroke="#1a1a1a" stroke-width="0.22">0</text>
<text x="457.30" y="114.15" font-size="11" text-anchor="end" fill="#1a1a1a"  stroke="#1a1a1a" stroke-width="0.22">20</text>
<text x="457.30" y="83.40" font-size="11" text-anchor="end" fill="#1a1a1a"  stroke="#1a1a1a" stroke-width="0.22">40</text>
<text x="457.30" y="52.65" font-size="11" text-anchor="end" fill="#1a1a1a"  stroke="#1a1a1a" stroke-width="0.22">60</text>
<text x="457.30" y="21.90" font-size="11" text-anchor="end" fill="#1a1a1a"  stroke="#1a1a1a" stroke-width="0.22">80</text>
<path d="M459.50,148.00 v-1.8 M494.64,148.00 v-1.8 M529.78,148.00 v-1.8 M564.92,148.00 v-1.8 M600.06,148.00 v-1.8 M635.20,148.00 v-1.8 M459.50,141.00 h1.8 M459.50,110.25 h1.8 M459.50,79.50 h1.8 M459.50,48.75 h1.8 M459.50,18.00 h1.8" stroke="#555" stroke-width="0.8"/>
<text x="547.40" y="170.00" font-size="11" text-anchor="middle" fill="#1a1a1a"  stroke="#1a1a1a" stroke-width="0.22">Wavelength (nm)</text>
<text transform="translate(443.5,82.1) rotate(-90)" font-size="11" text-anchor="middle" fill="#1a1a1a" stroke="#1a1a1a" stroke-width="0.22">Reflectance (%)</text>
<text x="461.8" y="30.8" font-size="11" fill="#1a1a1a" stroke="#1a1a1a" stroke-width="0.22">(n<tspan font-size="7.5" dy="1.8"><tspan font-style="italic">b</tspan>,PDMS</tspan><tspan dy="-1.8">,n</tspan><tspan font-size="7.5" dy="1.8"><tspan font-style="italic">b</tspan>,PEO</tspan><tspan dy="-1.8">)</tspan></text>
<text x="485.00" y="72.20" font-size="9.6" text-anchor="middle" fill="#1a1a1a"  stroke="#1a1a1a" stroke-width="0.22">(90,79)</text>
<text x="525.80" y="70.00" font-size="9.6" text-anchor="middle" fill="#1a1a1a"  stroke="#1a1a1a" stroke-width="0.22">(110,97)</text>
<text x="569.60" y="84.00" font-size="9.6" text-anchor="middle" fill="#1a1a1a"  stroke="#1a1a1a" stroke-width="0.22">(130,114)</text>
<text x="611.30" y="89.60" font-size="9.6" text-anchor="middle" fill="#1a1a1a"  stroke="#1a1a1a" stroke-width="0.22">(150,132)</text>
<defs><filter id="tex" x="0" y="0" width="100%" height="100%" color-interpolation-filters="sRGB"><feTurbulence type="fractalNoise" baseFrequency="0.11 0.65" numOctaves="3" seed="7"/><feColorMatrix type="matrix" values="0.85 0 0 0 0.17  0.85 0 0 0 0.17  0.85 0 0 0 0.17  0 0 0 0 1"/></filter></defs>
<rect x="644.1" y="16.60" width="32.7" height="32.20" fill="#999" filter="url(#tex)"/>
<rect x="644.1" y="16.60" width="13.1" height="13.3" fill="#3474c4" opacity="0.88"/>
<text x="660.3" y="47.20" font-size="7.6" font-weight="bold" text-anchor="middle" fill="#fff" stroke="#404040" stroke-width="0.6" stroke-linejoin="round" paint-order="stroke">(90,79)</text>
<rect x="644.1" y="50.20" width="32.7" height="31.70" fill="#999" filter="url(#tex)"/>
<rect x="644.1" y="50.20" width="13.1" height="13.3" fill="#98ba78" opacity="0.88"/>
<text x="660.3" y="80.30" font-size="7.6" font-weight="bold" text-anchor="middle" fill="#fff" stroke="#404040" stroke-width="0.6" stroke-linejoin="round" paint-order="stroke">(110,97)</text>
<rect x="644.1" y="83.50" width="32.7" height="31.50" fill="#999" filter="url(#tex)"/>
<rect x="644.1" y="83.50" width="13.1" height="13.3" fill="#d88a78" opacity="0.88"/>
<text x="660.3" y="113.40" font-size="7.6" font-weight="bold" text-anchor="middle" fill="#fff" stroke="#404040" stroke-width="0.6" stroke-linejoin="round" paint-order="stroke">(130,114)</text>
<rect x="644.1" y="116.50" width="32.7" height="32.70" fill="#999" filter="url(#tex)"/>
<rect x="644.1" y="116.50" width="13.1" height="13.3" fill="#c08096" opacity="0.88"/>
<text x="660.3" y="147.60" font-size="7.6" font-weight="bold" text-anchor="middle" fill="#fff" stroke="#404040" stroke-width="0.6" stroke-linejoin="round" paint-order="stroke">(150,132)</text>
<path d="M650.5,128.4 h5.2" stroke="#fff" stroke-width="1.1"/>
<path d="M670.2,148.2 h4.6" stroke="#fff" stroke-width="0.9"/>
<path d="M40.60,191.80 V321.60 H216.20 V191.80 Z" fill="none" stroke="#555" stroke-width="0.9"/>
<text x="52.60" y="332.30" font-size="11" text-anchor="middle" fill="#1a1a1a"  stroke="#1a1a1a" stroke-width="0.22">1.30</text>
<text x="104.20" y="332.30" font-size="11" text-anchor="middle" fill="#1a1a1a"  stroke="#1a1a1a" stroke-width="0.22">1.35</text>
<text x="155.60" y="332.30" font-size="11" text-anchor="middle" fill="#1a1a1a"  stroke="#1a1a1a" stroke-width="0.22">1.40</text>
<text x="205.60" y="332.30" font-size="11" text-anchor="middle" fill="#1a1a1a"  stroke="#1a1a1a" stroke-width="0.22">1.45</text>
<text x="38.90" y="198.60" font-size="11" text-anchor="end" fill="#1a1a1a"  stroke="#1a1a1a" stroke-width="0.22">0.20</text>
<text x="38.90" y="222.90" font-size="11" text-anchor="end" fill="#1a1a1a"  stroke="#1a1a1a" stroke-width="0.22">0.18</text>
<text x="38.90" y="248.10" font-size="11" text-anchor="end" fill="#1a1a1a"  stroke="#1a1a1a" stroke-width="0.22">0.16</text>
<text x="38.90" y="274.00" font-size="11" text-anchor="end" fill="#1a1a1a"  stroke="#1a1a1a" stroke-width="0.22">0.14</text>
<text x="38.90" y="300.20" font-size="11" text-anchor="end" fill="#1a1a1a"  stroke="#1a1a1a" stroke-width="0.22">0.12</text>
<text x="38.90" y="324.20" font-size="11" text-anchor="end" fill="#1a1a1a"  stroke="#1a1a1a" stroke-width="0.22">0.10</text>
<path d="M50.80,321.60 v-1.8 M102.60,321.60 v-1.8 M154.40,321.60 v-1.8 M206.20,321.60 v-1.8 M40.60,217.80 h1.8 M40.60,243.80 h1.8 M40.60,269.80 h1.8 M40.60,296.00 h1.8" stroke="#555" stroke-width="0.8"/>
<path d="M61.4,300.8 L195.4,204.5" stroke="#2a2a2a" stroke-width="0.8"/>
<circle cx="61.50" cy="298.00" r="2.8" fill="#4a86cc"/>
<circle cx="92.20" cy="282.20" r="2.8" fill="#4a86cc"/>
<circle cx="164.60" cy="231.70" r="2.8" fill="#4a86cc"/>
<circle cx="195.30" cy="199.60" r="2.8" fill="#4a86cc"/>
<text x="49.8" y="206.6" font-size="9.8" fill="#222" stroke="#222" stroke-width="0.22">R² = 0.989</text>
<text x="129.00" y="343.40" font-size="11" text-anchor="middle" fill="#1a1a1a"  stroke="#1a1a1a" stroke-width="0.22">PDI</text>
<text transform="translate(13.7,258.9) rotate(-90)" font-size="10" text-anchor="middle" fill="#1a1a1a" stroke="#1a1a1a" stroke-width="0.22">Thincknee std (σ)</text>
<ellipse cx="144.2" cy="189.4" rx="1.0" ry="0.55" fill="#555"/>
<path d="M270.60,190.30 V320.50 H446.20 V190.30 Z" fill="none" stroke="#555" stroke-width="0.9"/>
<text x="278.20" y="331.00" font-size="11" text-anchor="middle" fill="#1a1a1a"  stroke="#1a1a1a" stroke-width="0.22">150</text>
<text x="268.40" y="321.50" font-size="11" text-anchor="end" fill="#1a1a1a"  stroke="#1a1a1a" stroke-width="0.22">150</text>
<text x="305.60" y="331.00" font-size="11" text-anchor="middle" fill="#1a1a1a"  stroke="#1a1a1a" stroke-width="0.22">175</text>
<text x="268.40" y="299.70" font-size="11" text-anchor="end" fill="#1a1a1a"  stroke="#1a1a1a" stroke-width="0.22">175</text>
<text x="333.30" y="331.00" font-size="11" text-anchor="middle" fill="#1a1a1a"  stroke="#1a1a1a" stroke-width="0.22">200</text>
<text x="268.40" y="278.60" font-size="11" text-anchor="end" fill="#1a1a1a"  stroke="#1a1a1a" stroke-width="0.22">200</text>
<text x="361.20" y="331.00" font-size="11" text-anchor="middle" fill="#1a1a1a"  stroke="#1a1a1a" stroke-width="0.22">225</text>
<text x="268.40" y="258.10" font-size="11" text-anchor="end" fill="#1a1a1a"  stroke="#1a1a1a" stroke-width="0.22">225</text>
<text x="389.20" y="331.00" font-size="11" text-anchor="middle" fill="#1a1a1a"  stroke="#1a1a1a" stroke-width="0.22">250</text>
<text x="268.40" y="237.20" font-size="11" text-anchor="end" fill="#1a1a1a"  stroke="#1a1a1a" stroke-width="0.22">250</text>
<text x="417.20" y="331.00" font-size="11" text-anchor="middle" fill="#1a1a1a"  stroke="#1a1a1a" stroke-width="0.22">275</text>
<text x="268.40" y="216.30" font-size="11" text-anchor="end" fill="#1a1a1a"  stroke="#1a1a1a" stroke-width="0.22">275</text>
<text x="445.40" y="331.00" font-size="11" text-anchor="middle" fill="#1a1a1a"  stroke="#1a1a1a" stroke-width="0.22">300</text>
<text x="268.40" y="195.60" font-size="11" text-anchor="end" fill="#1a1a1a"  stroke="#1a1a1a" stroke-width="0.22">300</text>
<path d="M275.20,320.50 v-1.8 M270.60,317.30 h1.8 M303.62,320.50 v-1.8 M270.60,296.10 h1.8 M332.05,320.50 v-1.8 M270.60,274.90 h1.8 M360.48,320.50 v-1.8 M270.60,253.70 h1.8 M388.90,320.50 v-1.8 M270.60,232.50 h1.8 M417.32,320.50 v-1.8 M270.60,211.30 h1.8 M445.75,320.50 v-1.8 M270.60,190.10 h1.8" stroke="#555" stroke-width="0.8"/>
<path d="M287.25,308.81 L434.72,198.83" stroke="#2a2a2a" stroke-width="0.8"/>
<circle cx="295.70" cy="289.90" r="2.9" fill="#0a0a0a"/>
<circle cx="336.50" cy="267.70" r="2.9" fill="#0a0a0a"/>
<circle cx="375.90" cy="247.40" r="2.9" fill="#0a0a0a"/>
<circle cx="408.70" cy="227.50" r="2.9" fill="#0a0a0a"/>
<circle cx="298.50" cy="283.90" r="2.65" fill="#fff" stroke="#222" stroke-width="0.7"/>
<circle cx="343.90" cy="261.00" r="2.65" fill="#fff" stroke="#222" stroke-width="0.7"/>
<circle cx="383.20" cy="239.90" r="2.65" fill="#fff" stroke="#222" stroke-width="0.7"/>
<circle cx="424.80" cy="219.40" r="2.65" fill="#fff" stroke="#222" stroke-width="0.7"/>
<circle cx="312.3" cy="278.1" r="4.4" fill="none" stroke="#3a9a72" stroke-width="1.05"/>
<path d="M307.4,288.4 L317.2,291.0 M314.6,285.4 L310.0,294.2" stroke="#3a9a72" stroke-width="1.0"/>
<circle cx="355.4" cy="256.7" r="4.4" fill="none" stroke="#b86464" stroke-width="1.0"/>
<path d="M351.2,256.2 L359.6,258.0 M357.6,253.0 L353.4,260.6" stroke="#b86464" stroke-width="0.8"/>
<text x="298.0" y="269.8" font-size="7.4" fill="#555" stroke="#555" stroke-width="0.22">(<tspan fill="#7b86ee" stroke="#7b86ee" stroke-width="0.22">100</tspan>,<tspan fill="#e06a6a" stroke="#e06a6a" stroke-width="0.22">88</tspan>)</text>
<text x="355.5" y="269.2" font-size="7.4" fill="#555" stroke="#555" stroke-width="0.22">(<tspan fill="#7b86ee" stroke="#7b86ee" stroke-width="0.22">120</tspan>,<tspan fill="#e06a6a" stroke="#e06a6a" stroke-width="0.22">106</tspan>)</text>
<circle cx="282.0" cy="201.6" r="2.65" fill="#fff" stroke="#222" stroke-width="0.7"/>
<circle cx="282.0" cy="213.2" r="2.9" fill="#0a0a0a"/>
<text x="290.60" y="204.80" font-size="9.4" text-anchor="start" fill="#1a1a1a"  stroke="#1a1a1a" stroke-width="0.22">melt</text>
<text x="290.60" y="216.40" font-size="9.4" text-anchor="start" fill="#1a1a1a"  stroke="#1a1a1a" stroke-width="0.22">crystalline</text>
<text x="381.6" y="205.6" font-size="8.5" fill="#1a1a1a" stroke="#1a1a1a" stroke-width="0.22">d<tspan font-size="5.8" dy="1.0">thy</tspan><tspan dy="-1.0"> = d</tspan><tspan font-size="5.8" dy="1.0">expt</tspan></text>
<path d="M419.2,202.0 Q423.5,198.6 427.0,202.2" stroke="#222" stroke-width="0.7" fill="none"/><path d="M425.6,200.6 L428.4,203.6 L426.0,203.4 Z" fill="#222"/>
<text x="358.0" y="342.5" font-size="11" text-anchor="middle" fill="#1a1a1a" stroke="#1a1a1a" stroke-width="0.22">d<tspan font-size="9.2" dy="2.0">expt</tspan><tspan dy="-2.0"> (nm)</tspan></text>
<text transform="translate(244.8,254.6) rotate(-90)" font-size="11" text-anchor="middle" fill="#1a1a1a" stroke="#1a1a1a" stroke-width="0.22">d<tspan font-size="9.2" dy="2.0">thy</tspan><tspan dy="-2.0"> (nm)</tspan></text>
<clipPath id="cpf1"><rect x="501.00" y="190.10" width="175.00" height="65.50"/></clipPath>
<clipPath id="cpf2"><rect x="501.00" y="255.60" width="175.00" height="66.10"/></clipPath>
<path d="M501.00,219.40 C501.08,219.13 501.30,217.23 501.50,217.80 C501.70,218.37 501.92,222.17 502.20,222.80 C502.48,223.43 502.82,221.73 503.20,221.60 C503.58,221.47 503.75,222.20 504.50,222.00 C505.25,221.80 506.45,220.97 507.70,220.40 C508.95,219.83 510.13,219.27 512.00,218.60 C513.87,217.93 516.43,217.28 518.90,216.40 C521.37,215.52 524.15,214.35 526.80,213.30 C529.45,212.25 532.42,210.93 534.80,210.10 C537.18,209.27 538.98,208.53 541.10,208.30 C543.22,208.07 545.12,208.00 547.50,208.70 C549.88,209.40 552.48,210.80 555.40,212.50 C558.32,214.20 561.82,217.05 565.00,218.90 C568.18,220.75 571.80,222.25 574.50,223.60 C577.20,224.95 578.95,225.87 581.20,227.00 C583.45,228.13 585.40,229.32 588.00,230.40 C590.60,231.48 594.13,232.57 596.80,233.50 C599.47,234.43 601.40,235.22 604.00,236.00 C606.60,236.78 609.73,237.58 612.40,238.20 C615.07,238.82 617.40,239.30 620.00,239.70 C622.60,240.10 624.05,240.33 628.00,240.60 C631.95,240.87 640.93,241.20 643.70,241.30 C646.47,241.40 644.31,241.16 644.62,241.19 C644.92,241.23 645.23,241.43 645.54,241.50 C645.84,241.56 646.15,241.64 646.45,241.58 C646.76,241.51 647.06,241.12 647.37,241.10 C647.68,241.08 647.98,241.45 648.29,241.46 C648.59,241.46 648.90,241.12 649.21,241.13 C649.51,241.15 649.82,241.52 650.12,241.55 C650.43,241.59 650.74,241.32 651.04,241.34 C651.35,241.36 651.65,241.62 651.96,241.69 C652.26,241.76 652.57,241.80 652.88,241.76 C653.18,241.73 653.49,241.49 653.79,241.50 C654.10,241.51 654.41,241.82 654.71,241.81 C655.02,241.80 655.32,241.50 655.63,241.42 C655.94,241.33 656.24,241.26 656.55,241.29 C656.85,241.33 657.16,241.62 657.46,241.62 C657.77,241.63 658.08,241.31 658.38,241.30 C658.69,241.30 658.99,241.59 659.30,241.60 C659.61,241.61 659.92,241.41 660.23,241.39 C660.54,241.36 660.85,241.45 661.16,241.48 C661.46,241.51 661.77,241.60 662.08,241.57 C662.39,241.53 662.70,241.33 663.01,241.26 C663.32,241.19 663.63,241.10 663.94,241.16 C664.25,241.22 664.56,241.60 664.87,241.62 C665.18,241.64 665.49,241.26 665.79,241.25 C666.10,241.25 666.41,241.56 666.72,241.61 C667.03,241.66 667.34,241.61 667.65,241.54 C667.96,241.47 668.27,241.25 668.58,241.19 C668.89,241.14 669.20,241.21 669.51,241.21 C669.81,241.21 670.12,241.20 670.43,241.21 C670.74,241.22 671.05,241.26 671.36,241.25 C671.67,241.25 671.98,241.21 672.29,241.19 C672.60,241.17 672.91,241.14 673.22,241.14 C673.53,241.13 673.84,241.11 674.14,241.14 C674.45,241.17 674.76,241.32 675.07,241.30 C675.38,241.27 675.85,241.05 676.00,241.00" stroke="#2e9a78" stroke-width="1.2" fill="none" clip-path="url(#cpf1)"/>
<path d="M501.20,219.60 C502.82,219.60 507.77,219.63 510.90,219.60 C514.03,219.57 517.35,219.50 520.00,219.40 C522.65,219.30 524.97,219.23 526.80,219.00 C528.63,218.77 529.93,218.33 531.00,218.00 C532.07,217.67 532.40,217.53 533.20,217.00 C534.00,216.47 535.02,215.60 535.80,214.80 C536.58,214.00 537.27,213.07 537.90,212.20 C538.53,211.33 539.07,210.38 539.60,209.60 C540.13,208.82 540.63,207.80 541.10,207.50 C541.57,207.20 541.87,207.45 542.40,207.80 C542.93,208.15 543.62,208.73 544.30,209.60 C544.98,210.47 545.70,211.90 546.50,213.00 C547.30,214.10 548.18,215.40 549.10,216.20 C550.02,217.00 550.95,217.37 552.00,217.80 C553.05,218.23 554.07,218.52 555.40,218.80 C556.73,219.08 558.40,219.33 560.00,219.50 C561.60,219.67 560.83,219.72 565.00,219.80 C569.17,219.88 566.50,219.97 585.00,220.00 C603.50,220.03 660.83,220.00 676.00,220.00" stroke="#111" stroke-width="1.25" stroke-dasharray="3.1,1.8" fill="none" clip-path="url(#cpf1)"/>
<path d="M501.00,296.00 C501.07,295.42 501.25,293.40 501.40,292.50 C501.55,291.60 501.72,290.52 501.90,290.60 C502.08,290.68 502.30,292.13 502.50,293.00 C502.70,293.87 502.88,295.20 503.10,295.80 C503.32,296.40 503.52,296.67 503.80,296.60 C504.08,296.53 504.23,295.57 504.80,295.40 C505.37,295.23 506.00,295.50 507.20,295.60 C508.40,295.70 509.87,295.85 512.00,296.00 C514.13,296.15 517.10,296.40 520.00,296.50 C522.90,296.60 526.07,296.63 529.40,296.60 C532.73,296.57 536.75,296.47 540.00,296.30 C543.25,296.13 546.23,295.98 548.90,295.60 C551.57,295.22 553.22,294.67 556.00,294.00 C558.78,293.33 562.93,292.32 565.60,291.60 C568.27,290.88 569.85,290.17 572.00,289.70 C574.15,289.23 576.33,288.82 578.50,288.80 C580.67,288.78 582.75,289.10 585.00,289.60 C587.25,290.10 589.67,291.17 592.00,291.80 C594.33,292.43 596.77,292.93 599.00,293.40 C601.23,293.87 603.23,294.18 605.40,294.60 C607.57,295.02 609.68,295.47 612.00,295.90 C614.32,296.33 616.97,296.78 619.30,297.20 C621.63,297.62 623.68,298.03 626.00,298.40 C628.32,298.77 629.70,298.92 633.20,299.40 C636.70,299.88 644.55,300.97 647.00,301.30 C649.45,301.63 647.62,301.38 647.93,301.40 C648.24,301.43 648.54,301.41 648.85,301.47 C649.16,301.52 649.47,301.69 649.78,301.71 C650.09,301.73 650.40,301.57 650.71,301.57 C651.02,301.57 651.32,301.61 651.63,301.70 C651.94,301.80 652.25,302.09 652.56,302.14 C652.87,302.19 653.18,302.01 653.49,302.01 C653.80,302.01 654.10,302.13 654.41,302.12 C654.72,302.12 655.03,301.93 655.34,301.96 C655.65,301.98 655.96,302.18 656.27,302.26 C656.58,302.34 656.88,302.44 657.19,302.44 C657.50,302.44 657.81,302.22 658.12,302.26 C658.43,302.30 658.74,302.57 659.05,302.66 C659.36,302.74 659.66,302.74 659.97,302.77 C660.28,302.79 660.59,302.82 660.90,302.80 C661.21,302.78 661.53,302.63 661.84,302.67 C662.16,302.71 662.47,302.98 662.79,303.04 C663.10,303.10 663.42,303.01 663.73,303.05 C664.05,303.08 664.36,303.22 664.67,303.24 C664.99,303.26 665.30,303.13 665.62,303.16 C665.93,303.20 666.25,303.37 666.56,303.43 C666.88,303.49 667.19,303.56 667.51,303.53 C667.82,303.50 668.14,303.29 668.45,303.26 C668.76,303.23 669.08,303.28 669.39,303.37 C669.71,303.45 670.02,303.66 670.34,303.76 C670.65,303.87 670.97,304.00 671.28,303.99 C671.60,303.99 671.91,303.74 672.23,303.73 C672.54,303.71 672.85,303.86 673.17,303.92 C673.48,303.97 673.80,304.05 674.11,304.07 C674.43,304.09 674.74,304.00 675.06,304.02 C675.37,304.04 675.84,304.17 676.00,304.20" stroke="#c07070" stroke-width="1.2" fill="none" clip-path="url(#cpf2)"/>
<path d="M501.20,297.00 C502.67,297.07 506.87,297.27 510.00,297.40 C513.13,297.53 516.77,297.72 520.00,297.80 C523.23,297.88 526.07,297.93 529.40,297.90 C532.73,297.87 536.75,297.77 540.00,297.60 C543.25,297.43 546.23,297.33 548.90,296.90 C551.57,296.47 553.22,295.77 556.00,295.00 C558.78,294.23 562.93,293.20 565.60,292.30 C568.27,291.40 570.18,290.28 572.00,289.60 C573.82,288.92 575.12,288.48 576.50,288.20 C577.88,287.92 579.05,287.70 580.30,287.90 C581.55,288.10 582.72,288.78 584.00,289.40 C585.28,290.02 586.53,290.90 588.00,291.60 C589.47,292.30 591.13,293.03 592.80,293.60 C594.47,294.17 595.90,294.62 598.00,295.00 C600.10,295.38 603.07,295.70 605.40,295.90 C607.73,296.10 609.68,296.13 612.00,296.20 C614.32,296.27 608.63,296.28 619.30,296.30 C629.97,296.32 666.55,296.30 676.00,296.30" stroke="#111" stroke-width="1.25" stroke-dasharray="3.1,1.8" fill="none" clip-path="url(#cpf2)"/>
<path d="M500.50,190.10 V321.70 H676.50 V190.10 Z" fill="none" stroke="#555" stroke-width="0.9"/>
<path d="M500.90,255.85 H676.10" stroke="#999" stroke-width="1.5"/>
<path d="M535.70,255.10 v-1.8 M535.70,321.70 v-1.8 M570.90,255.10 v-1.8 M570.90,321.70 v-1.8 M606.10,255.10 v-1.8 M606.10,321.70 v-1.8 M641.30,255.10 v-1.8 M641.30,321.70 v-1.8 M500.50,237.17 h1.8 M500.50,222.05 h1.8 M500.50,206.92 h1.8 M500.50,191.80 h1.8 M500.50,252.30 h1.8 M500.50,317.50 h1.8 M500.50,302.23 h1.8 M500.50,286.96 h1.8 M500.50,271.69 h1.8" stroke="#555" stroke-width="0.8"/>
<text x="498.60" y="256.20" font-size="11" text-anchor="end" fill="#1a1a1a"  stroke="#1a1a1a" stroke-width="0.22">0</text>
<text x="498.60" y="241.07" font-size="11" text-anchor="end" fill="#1a1a1a"  stroke="#1a1a1a" stroke-width="0.22">20</text>
<text x="498.60" y="225.95" font-size="11" text-anchor="end" fill="#1a1a1a"  stroke="#1a1a1a" stroke-width="0.22">40</text>
<text x="498.60" y="210.82" font-size="11" text-anchor="end" fill="#1a1a1a"  stroke="#1a1a1a" stroke-width="0.22">60</text>
<text x="498.60" y="195.70" font-size="11" text-anchor="end" fill="#1a1a1a"  stroke="#1a1a1a" stroke-width="0.22">80</text>
<text x="498.60" y="321.40" font-size="11" text-anchor="end" fill="#1a1a1a"  stroke="#1a1a1a" stroke-width="0.22">0</text>
<text x="498.60" y="306.13" font-size="11" text-anchor="end" fill="#1a1a1a"  stroke="#1a1a1a" stroke-width="0.22">20</text>
<text x="498.60" y="290.86" font-size="11" text-anchor="end" fill="#1a1a1a"  stroke="#1a1a1a" stroke-width="0.22">40</text>
<text x="498.60" y="275.59" font-size="11" text-anchor="end" fill="#1a1a1a"  stroke="#1a1a1a" stroke-width="0.22">60</text>
<text x="500.50" y="330.30" font-size="11" text-anchor="middle" fill="#1a1a1a"  stroke="#1a1a1a" stroke-width="0.22">400</text>
<text x="535.70" y="330.30" font-size="11" text-anchor="middle" fill="#1a1a1a"  stroke="#1a1a1a" stroke-width="0.22">500</text>
<text x="570.90" y="330.30" font-size="11" text-anchor="middle" fill="#1a1a1a"  stroke="#1a1a1a" stroke-width="0.22">600</text>
<text x="606.10" y="330.30" font-size="11" text-anchor="middle" fill="#1a1a1a"  stroke="#1a1a1a" stroke-width="0.22">700</text>
<text x="641.30" y="330.30" font-size="11" text-anchor="middle" fill="#1a1a1a"  stroke="#1a1a1a" stroke-width="0.22">800</text>
<text x="676.50" y="330.30" font-size="11" text-anchor="middle" fill="#1a1a1a"  stroke="#1a1a1a" stroke-width="0.22">900</text>
<text x="588.50" y="342.60" font-size="11" text-anchor="middle" fill="#1a1a1a"  stroke="#1a1a1a" stroke-width="0.22">Wavelength (nm)</text>
<text transform="translate(483.8,253.9) rotate(-90)" font-size="11" text-anchor="middle" fill="#1a1a1a" stroke="#1a1a1a" stroke-width="0.22">Reflectance (%)</text>
<circle cx="509.4" cy="199.2" r="4.6" fill="none" stroke="#2e9a78" stroke-width="1.0"/>
<circle cx="509.4" cy="266.0" r="4.6" fill="none" stroke="#b05c5c" stroke-width="1.0"/>
<text x="565.4" y="209.9" font-size="9.9" fill="#1a1a1a" stroke="#1a1a1a" stroke-width="0.22">Δ<tspan dx="1.1">E = 9.4</tspan></text>
<text x="565.4" y="276.1" font-size="9.9" fill="#1a1a1a" stroke="#1a1a1a" stroke-width="0.22">Δ<tspan dx="1.1">E = 2.8</tspan></text>
<rect x="607.8" y="195.3" width="22.4" height="21.9" fill="#9fb9a9"/>
<defs><filter id="nz" x="0" y="0" width="100%" height="100%"><feTurbulence type="fractalNoise" baseFrequency="0.25" numOctaves="2" seed="4"/><feColorMatrix type="matrix" values="0 0 0 0 1  0 0 0 0 1  0 0 0 0 1  0.7 0 0 0 -0.28"/><feComposite in2="SourceGraphic" operator="in"/></filter></defs>
<rect x="645.6" y="195.3" width="22.1" height="21.6" fill="#4fa896"/>
<rect x="645.6" y="195.3" width="22.1" height="21.6" fill="#4fa896" filter="url(#nz)"/>
<path d="M658.2,214.0 h7.5" stroke="#fff" stroke-width="1.1"/>
<text x="618.40" y="230.40" font-size="9.6" text-anchor="middle" fill="#1a1a1a"  stroke="#1a1a1a" stroke-width="0.22">target</text>
<text x="653.70" y="230.40" font-size="9.6" text-anchor="middle" fill="#3e9e7e"  stroke="#3e9e7e" stroke-width="0.22">achieved</text>
<rect x="608.0" y="259.7" width="22.3" height="22.2" fill="#a28a88"/>
<rect x="645.6" y="259.7" width="22.2" height="21.7" fill="#b48478"/>
<rect x="645.6" y="259.7" width="22.2" height="21.7" fill="#b48478" filter="url(#nz)"/>
<path d="M658.2,277.8 h7.8" stroke="#fff" stroke-width="1.1"/>
<text x="618.20" y="291.40" font-size="9.6" text-anchor="middle" fill="#1a1a1a"  stroke="#1a1a1a" stroke-width="0.22">target</text>
<text x="656.70" y="291.40" font-size="9.6" text-anchor="middle" fill="#b86868"  stroke="#b86868" stroke-width="0.22">achieved</text>
</svg>
</body></html>
